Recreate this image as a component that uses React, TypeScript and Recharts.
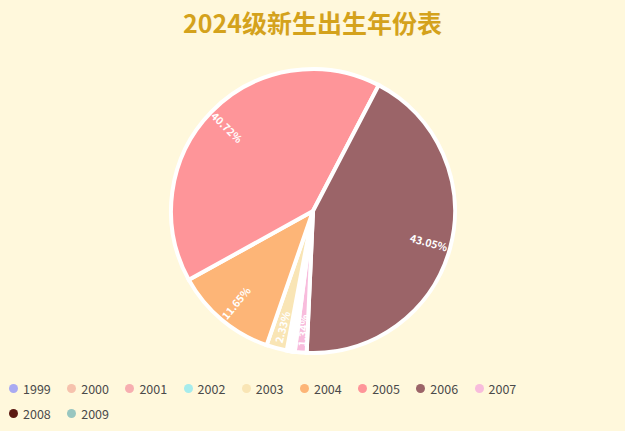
import { PieChart, Pie, Cell, Legend } from "recharts";

const TITLE = "2024级新生出生年份表";

const YEARS = ["1999", "2000", "2001", "2002", "2003", "2004", "2005", "2006", "2007", "2008", "2009"];
// share of students born in each year, in percent
const SHARES = [0.1, 0.14, 0.2, 0.3, 2.33, 11.65, 40.72, 43.05, 1.34, 0.1, 0.07];
const COLORS = [
  "#a9aaf2",
  "#f6c2ad",
  "#f7aeb0",
  "#a6ecec",
  "#f9e5b5",
  "#fdb577",
  "#fe9599",
  "#9b6468",
  "#f8bcdc",
  "#5c1a12",
  "#98c6c0",
];

const data = YEARS.map((year, i) => ({ name: year, value: SHARES[i] }));

const RADIAN = Math.PI / 180;

function SliceLabel(props: any) {
  const { cx, cy, midAngle, outerRadius, value } = props;
  if (value < 1) return null;
  const r = outerRadius - 22;
  const x = cx + r * Math.cos(-midAngle * RADIAN);
  const y = cy + r * Math.sin(-midAngle * RADIAN);
  const a = ((midAngle % 360) + 360) % 360;
  const rot = a > 90 && a < 270 ? 180 - midAngle : -midAngle;
  return (
    <text
      x={x}
      y={y}
      fill="#fff"
      fontSize={10.5}
      fontWeight="bold"
      textAnchor="middle"
      dominantBaseline="central"
      transform={`rotate(${rot} ${x} ${y})`}
    >
      {value.toFixed(2)}%
    </text>
  );
}

function LegendRows() {
  return (
    <div style={{ display: "flex", flexWrap: "wrap", width: 540, paddingLeft: 9 }}>
      {YEARS.map((year, i) => (
        <div
          key={year}
          style={{ width: 58.2, height: 25, display: "flex", alignItems: "center" }}
        >
          <span
            style={{
              width: 9,
              height: 9,
              borderRadius: "50%",
              background: COLORS[i],
              marginRight: 5,
            }}
          />
          <span style={{ fontSize: 12.5, color: "#4a4a4a" }}>{year}</span>
        </div>
      ))}
    </div>
  );
}

export default function App() {
  return (
    <div
      style={{
        position: "absolute",
        left: 0,
        top: 0,
        width: 625,
        height: 431,
        background: "#fff8dc",
        fontFamily: "'Noto Sans CJK SC', 'Noto Sans', sans-serif",
      }}
    >
      <div
        style={{
          position: "absolute",
          top: 4,
          left: 0,
          width: 625,
          textAlign: "center",
          fontSize: 25,
          fontWeight: "bold",
          color: "#d4a21c",
          zIndex: 1,
        }}
      >
        {TITLE}
      </div>
      <PieChart width={625} height={431} margin={{ top: 0, right: 0, bottom: 0, left: 0 }}>
        <Pie
          data={data}
          dataKey="value"
          nameKey="name"
          cx={313}
          cy={211}
          outerRadius={142}
          startAngle={262}
          endAngle={-98}
          stroke="#fff"
          strokeWidth={4}
          label={SliceLabel}
          labelLine={false}
          isAnimationActive={false}
        >
          {data.map((d, i) => (
            <Cell key={d.name} fill={COLORS[i]} />
          ))}
        </Pie>
        <Legend
          content={() => <LegendRows />}
          wrapperStyle={{ position: "absolute", left: 0, top: 376, width: 625 }}
        />
      </PieChart>
    </div>
  );
}
